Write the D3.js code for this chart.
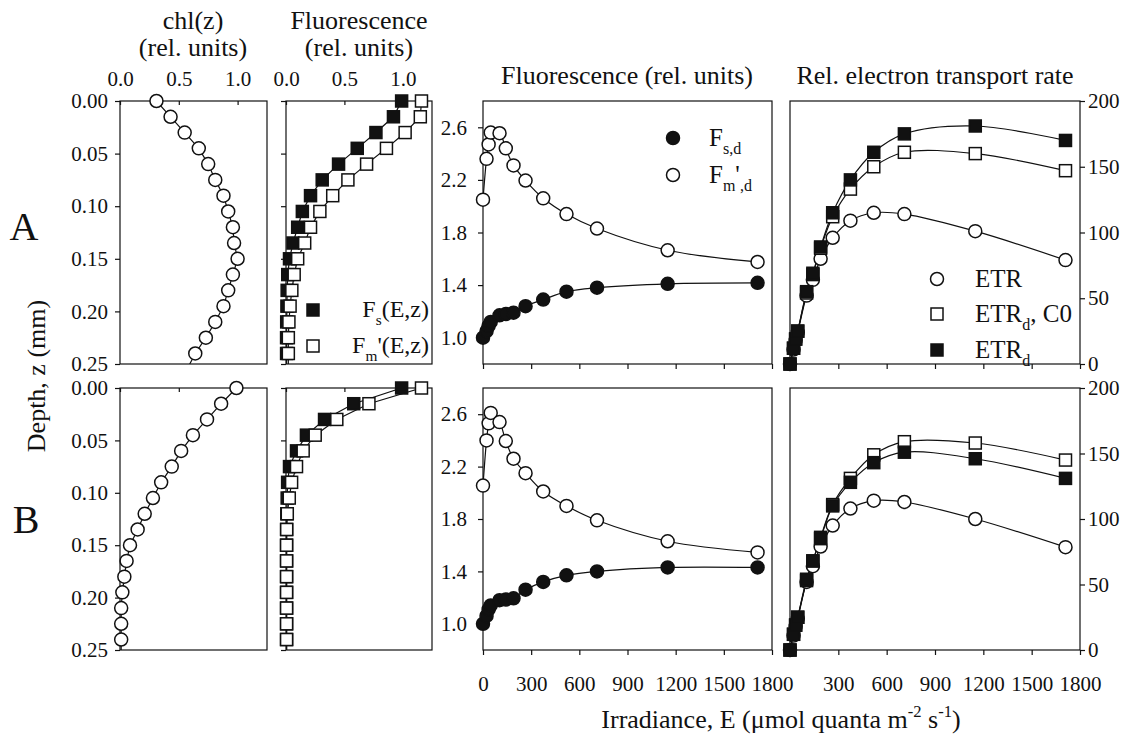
<!DOCTYPE html>
<html>
<head>
<meta charset="utf-8">
<script src="https://cdn.jsdelivr.net/npm/d3@7"></script>
<style>
body{margin:0;background:#fff;}
svg text{font-family:'Liberation Serif','Times New Roman',serif !important;fill:#111;}
</style>
</head>
<body>
<script>
//Depth grid (mm) of the profiles; last step lies just below the frame so lines run to the edge
var depth = [0, 0.015, 0.03, 0.045, 0.06, 0.075, 0.09, 0.105, 0.12, 0.135, 0.15, 0.165, 0.18, 0.195, 0.21, 0.225, 0.24, 0.255];
//Chlorophyll profiles (rel. units)
var chlA = [0.31, 0.43, 0.55, 0.67, 0.75, 0.81, 0.88, 0.92, 0.96, 0.97, 1.00, 0.96, 0.92, 0.88, 0.81, 0.73, 0.64, 0.57];
var chlB = [0.99, 0.86, 0.74, 0.62, 0.52, 0.44, 0.35, 0.28, 0.21, 0.15, 0.085, 0.056, 0.037, 0.02, 0.01, 0.01, 0.01, 0.01];
//Fluorescence profiles Fs(E,z) and Fm'(E,z)
var fsA = [0.99, 0.92, 0.77, 0.61, 0.45, 0.31, 0.21, 0.14, 0.10, 0.06, 0.03, 0.015, 0.010, 0.008, 0.006, 0.005, 0.005, 0.005];
var fmA = [1.16, 1.15, 1.02, 0.86, 0.69, 0.53, 0.40, 0.29, 0.21, 0.16, 0.10, 0.07, 0.05, 0.035, 0.025, 0.02, 0.02, 0.02];
var fsB = [0.99, 0.58, 0.33, 0.175, 0.09, 0.03, 0.014, 0.01, 0.007, 0.005, 0.005, 0.005, 0.005, 0.005, 0.005, 0.005, 0.005, 0.005];
var fmB = [1.16, 0.71, 0.435, 0.25, 0.147, 0.09, 0.048, 0.028, 0.011, 0.006, 0.005, 0.005, 0.005, 0.005, 0.005, 0.005, 0.005, 0.005];

//Irradiance steps of the light curves
var irr = [0, 22, 35, 48, 103, 142, 190, 265, 375, 520, 710, 1150, 1710];
//Depth integrated fluorescence
var fsdA = [1.0, 1.05, 1.09, 1.12, 1.17, 1.18, 1.19, 1.24, 1.29, 1.35, 1.38, 1.41, 1.417];
var fmdA = [2.05, 2.36, 2.47, 2.56, 2.555, 2.44, 2.31, 2.195, 2.06, 1.94, 1.83, 1.665, 1.576];
var fsdB = [1.0, 1.06, 1.11, 1.14, 1.18, 1.185, 1.195, 1.26, 1.32, 1.37, 1.40, 1.43, 1.43];
var fmdB = [2.055, 2.40, 2.53, 2.61, 2.54, 2.395, 2.26, 2.15, 2.01, 1.90, 1.79, 1.63, 1.545];
//Relative electron transport rates
var etrA = [0, 11, 18, 24, 52, 64, 80, 96, 109, 115, 114, 101, 79];
var etrC0A = [0, 12, 19, 25, 54, 68, 88, 112, 133, 150, 161, 160, 147];
var etrdA = [0, 12, 19, 25, 55, 69, 89, 115, 140, 161, 175, 181, 170];
var etrB = [0, 11, 18, 24, 52, 64, 79, 95, 108, 114, 113, 100, 78.5];
var etrC0B = [0, 12, 19, 25, 53, 68, 86, 111, 131, 149, 159, 158, 145];
var etrdB = [0, 12, 19, 25, 54, 68, 85, 110, 128, 143, 151, 146, 131];

//Tick values
var depthTicks = [0, 0.05, 0.10, 0.15, 0.20, 0.25];
var profTicks = [0, 0.5, 1.0];
var fluorTicks = [1.0, 1.4, 1.8, 2.2, 2.6];
var etrTicks = [0, 50, 100, 150, 200];
var irrTicks = [0, 300, 600, 900, 1200, 1500, 1800];

var width = 1132,
    height = 737;
var ink = '#111';
var serif = "'Liberation Serif','Times New Roman',serif";

var svg = d3.select('body')
    .append('svg')
    .attr('width', width)
    .attr('height', height)
    .style('font-family', serif);
var defs = svg.append('defs');

//Panel frames (pixel extents of columns and rows)
var cols = [[120, 267], [286, 432], [483, 772], [790, 1080]];
var rows = [[101, 364], [388, 650]];

var clipCount = 0;
function makePanel(cx, ry){
    var g = svg.append('g');
    var id = 'clip' + (clipCount++);
    defs.append('clipPath').attr('id', id)
        .append('rect')
        .attr('x', cx[0]).attr('y', ry[0])
        .attr('width', cx[1] - cx[0]).attr('height', ry[1] - ry[0]);
    g.append('rect')
        .attr('x', cx[0]).attr('y', ry[0])
        .attr('width', cx[1] - cx[0]).attr('height', ry[1] - ry[0])
        .attr('fill', 'none').attr('stroke', ink).attr('stroke-width', 1.2);
    g.clip = 'url(#' + id + ')';
    return g;
}

function styleAxis(a, size){
    a.attr('font-size', size).attr('font-family', serif);
    a.selectAll('text').style('font-family', serif).attr('fill', ink);
    a.select('.domain').remove();
    a.selectAll('line').attr('stroke', ink).attr('stroke-width', 1.2);
}

var noLabel = function(){ return ''; };

//Draw markers of one series
function markers(g, pts, x, y, shape, fill){
    if (shape === 'circle'){
        g.selectAll(null).data(pts).enter().append('circle')
            .attr('cx', function(d){ return x(d[0]); })
            .attr('cy', function(d){ return y(d[1]); })
            .attr('r', 6.5)
            .attr('fill', fill).attr('stroke', ink).attr('stroke-width', 1.5);
    } else {
        g.selectAll(null).data(pts).enter().append('rect')
            .attr('x', function(d){ return x(d[0]) - 6; })
            .attr('y', function(d){ return y(d[1]) - 6; })
            .attr('width', 12).attr('height', 12)
            .attr('fill', fill).attr('stroke', ink).attr('stroke-width', 1.5);
    }
}

//Depth profile panel
function profilePanel(ci, ri, series, topLabels, depthLabels){
    var x = d3.scaleLinear().domain([0, 1.25]).range(cols[ci]);
    var y = d3.scaleLinear().domain([0, 0.25]).range(rows[ri]);
    var g = makePanel(cols[ci], rows[ri]);
    var top = g.append('g')
        .attr('transform', 'translate(0,' + rows[ri][0] + ')')
        .call(d3.axisTop(x).tickValues(profTicks).tickSize(-4).tickPadding(15)
            .tickFormat(topLabels ? d3.format('.1f') : noLabel));
    styleAxis(top, 21);
    var left = g.append('g')
        .attr('transform', 'translate(' + cols[ci][0] + ',0)')
        .call(d3.axisLeft(y).tickValues(depthTicks).tickSize(5).tickPadding(7)
            .tickFormat(depthLabels ? d3.format('.2f') : noLabel));
    styleAxis(left, 21);
    var line = d3.line()
        .x(function(d){ return x(d[0]); })
        .y(function(d){ return y(d[1]); });
    series.forEach(function(s){
        var pts = depth.map(function(d, i){ return [s.values[i], d]; });
        g.append('path').datum(pts)
            .attr('d', line).attr('fill', 'none')
            .attr('stroke', ink).attr('stroke-width', 1.2)
            .attr('clip-path', g.clip);
    });
    series.forEach(function(s){
        var pts = depth.map(function(d, i){ return [s.values[i], d]; })
            .filter(function(p){ return p[1] <= 0.25; });
        markers(g, pts, x, y, s.shape, s.fill);
    });
    return g;
}

//Light curve panel
function lightPanel(ci, ri, yDomain, yTicks, side, series, xLabels){
    var x = d3.scaleLinear().domain([0, 1800]).range(cols[ci]);
    var y = d3.scaleLinear().domain(yDomain).range([rows[ri][1], rows[ri][0]]);
    var g = makePanel(cols[ci], rows[ri]);
    var fmt = xLabels ? function(d){ return (ci === 3 && d === 0) ? '' : d; } : noLabel;
    var bottom = g.append('g')
        .attr('transform', 'translate(0,' + rows[ri][1] + ')')
        .call(d3.axisBottom(x).tickValues(irrTicks).tickSize(5).tickPadding(21).tickFormat(fmt));
    styleAxis(bottom, 21);
    var yAxis;
    if (side === 'left'){
        yAxis = g.append('g')
            .attr('transform', 'translate(' + cols[ci][0] + ',0)')
            .call(d3.axisLeft(y).tickValues(yTicks).tickSize(5).tickPadding(11).tickFormat(d3.format('.1f')));
    } else {
        yAxis = g.append('g')
            .attr('transform', 'translate(' + cols[ci][1] + ',0)')
            .call(d3.axisRight(y).tickValues(yTicks).tickSize(5).tickPadding(3).tickFormat(d3.format('d')));
    }
    styleAxis(yAxis, 21);
    var line = d3.line()
        .curve(d3.curveCatmullRom.alpha(0.5))
        .x(function(d){ return x(d[0]); })
        .y(function(d){ return y(d[1]); });
    series.forEach(function(s){
        var pts = irr.map(function(e, i){ return [e, s.values[i]]; });
        g.append('path').datum(pts)
            .attr('d', line).attr('fill', 'none')
            .attr('stroke', ink).attr('stroke-width', 1.2)
            .attr('clip-path', g.clip);
    });
    series.forEach(function(s){
        var pts = irr.map(function(e, i){ return [e, s.values[i]]; });
        markers(g, pts, x, y, s.shape, s.fill);
    });
    return g;
}

//Text with sub/superscript parts
function rich(x, y, parts, size, anchor){
    var t = svg.append('text')
        .attr('x', x).attr('y', y)
        .attr('font-size', size)
        .attr('text-anchor', anchor || 'start');
    var cur = 0;
    parts.forEach(function(p){
        var off = p[1] === 'sub' ? size * 0.32 : (p[1] === 'sup' ? -size * 0.42 : 0);
        t.append('tspan')
            .attr('dy', off - cur)
            .attr('font-size', p[1] ? size * 0.64 : size)
            .text(p[0]);
        cur = off;
    });
    return t;
}

//Row A
profilePanel(0, 0, [{values: chlA, shape: 'circle', fill: '#fff'}], true, true);
profilePanel(1, 0, [{values: fsA, shape: 'square', fill: ink}, {values: fmA, shape: 'square', fill: '#fff'}], true, false);
lightPanel(2, 0, [0.8, 2.8], fluorTicks, 'left',
    [{values: fmdA, shape: 'circle', fill: '#fff'}, {values: fsdA, shape: 'circle', fill: ink}], false);
lightPanel(3, 0, [0, 200], etrTicks, 'right',
    [{values: etrA, shape: 'circle', fill: '#fff'}, {values: etrC0A, shape: 'square', fill: '#fff'},
     {values: etrdA, shape: 'square', fill: ink}], false);

//Row B
profilePanel(0, 1, [{values: chlB, shape: 'circle', fill: '#fff'}], false, true);
profilePanel(1, 1, [{values: fsB, shape: 'square', fill: ink}, {values: fmB, shape: 'square', fill: '#fff'}], false, false);
lightPanel(2, 1, [0.8, 2.8], fluorTicks, 'left',
    [{values: fmdB, shape: 'circle', fill: '#fff'}, {values: fsdB, shape: 'circle', fill: ink}], true);
lightPanel(3, 1, [0, 200], etrTicks, 'right',
    [{values: etrB, shape: 'circle', fill: '#fff'}, {values: etrC0B, shape: 'square', fill: '#fff'},
     {values: etrdB, shape: 'square', fill: ink}], true);

//Column titles
var titleSize = 26;
svg.append('text').attr('x', 193).attr('y', 29).attr('text-anchor', 'middle').attr('font-size', titleSize).text('chl(z)');
svg.append('text').attr('x', 193).attr('y', 56).attr('text-anchor', 'middle').attr('font-size', titleSize).text('(rel. units)');
svg.append('text').attr('x', 359).attr('y', 29).attr('text-anchor', 'middle').attr('font-size', titleSize).text('Fluorescence');
svg.append('text').attr('x', 359).attr('y', 56).attr('text-anchor', 'middle').attr('font-size', titleSize).text('(rel. units)');
svg.append('text').attr('x', 627).attr('y', 84).attr('text-anchor', 'middle').attr('font-size', titleSize).text('Fluorescence (rel. units)');
svg.append('text').attr('x', 935).attr('y', 84).attr('text-anchor', 'middle').attr('font-size', titleSize).text('Rel. electron transport rate');

//Row letters
svg.append('text').attr('x', 24).attr('y', 240).attr('text-anchor', 'middle').attr('font-size', 40).text('A');
svg.append('text').attr('x', 26).attr('y', 533).attr('text-anchor', 'middle').attr('font-size', 40).text('B');

//Depth axis title
svg.append('text')
    .attr('transform', 'translate(45,376) rotate(-90)')
    .attr('text-anchor', 'middle').attr('font-size', titleSize)
    .text('Depth, z (mm)');

//Irradiance axis title
rich(781, 728, [['Irradiance, E (\u03bcmol quanta m'], ['-2', 'sup'], [' s'], ['-1', 'sup'], [')']], titleSize, 'middle');

//Legend of profile panel
var lg = svg.append('g');
lg.append('rect').attr('x', 307).attr('y', 304).attr('width', 12).attr('height', 12).attr('fill', ink).attr('stroke', ink).attr('stroke-width', 1.5);
lg.append('rect').attr('x', 307).attr('y', 340).attr('width', 12).attr('height', 12).attr('fill', '#fff').attr('stroke', ink).attr('stroke-width', 1.5);
rich(429, 317, [['F'], ['s', 'sub'], ['(E,z)']], 24, 'end');
rich(429, 353, [['F'], ['m', 'sub'], ['\'(E,z)']], 24, 'end');

//Legend of fluorescence light curves
lg.append('circle').attr('cx', 673).attr('cy', 138).attr('r', 6.5).attr('fill', ink).attr('stroke', ink).attr('stroke-width', 1.5);
lg.append('circle').attr('cx', 673).attr('cy', 175).attr('r', 6.5).attr('fill', '#fff').attr('stroke', ink).attr('stroke-width', 1.5);
rich(709, 146, [['F'], ['s,d', 'sub']], 25);
rich(709, 183, [['F'], ['m', 'sub'], ['\''], [',d', 'sub']], 25);

//Legend of ETR curves
lg.append('circle').attr('cx', 937).attr('cy', 279).attr('r', 6.5).attr('fill', '#fff').attr('stroke', ink).attr('stroke-width', 1.5);
lg.append('rect').attr('x', 931).attr('y', 308).attr('width', 12).attr('height', 12).attr('fill', '#fff').attr('stroke', ink).attr('stroke-width', 1.5);
lg.append('rect').attr('x', 931).attr('y', 344).attr('width', 12).attr('height', 12).attr('fill', ink).attr('stroke', ink).attr('stroke-width', 1.5);
rich(975, 287, [['ETR']], 25);
rich(975, 322, [['ETR'], ['d', 'sub'], [', C0']], 25);
rich(975, 358, [['ETR'], ['d', 'sub']], 25);
</script>
</body>
</html>
